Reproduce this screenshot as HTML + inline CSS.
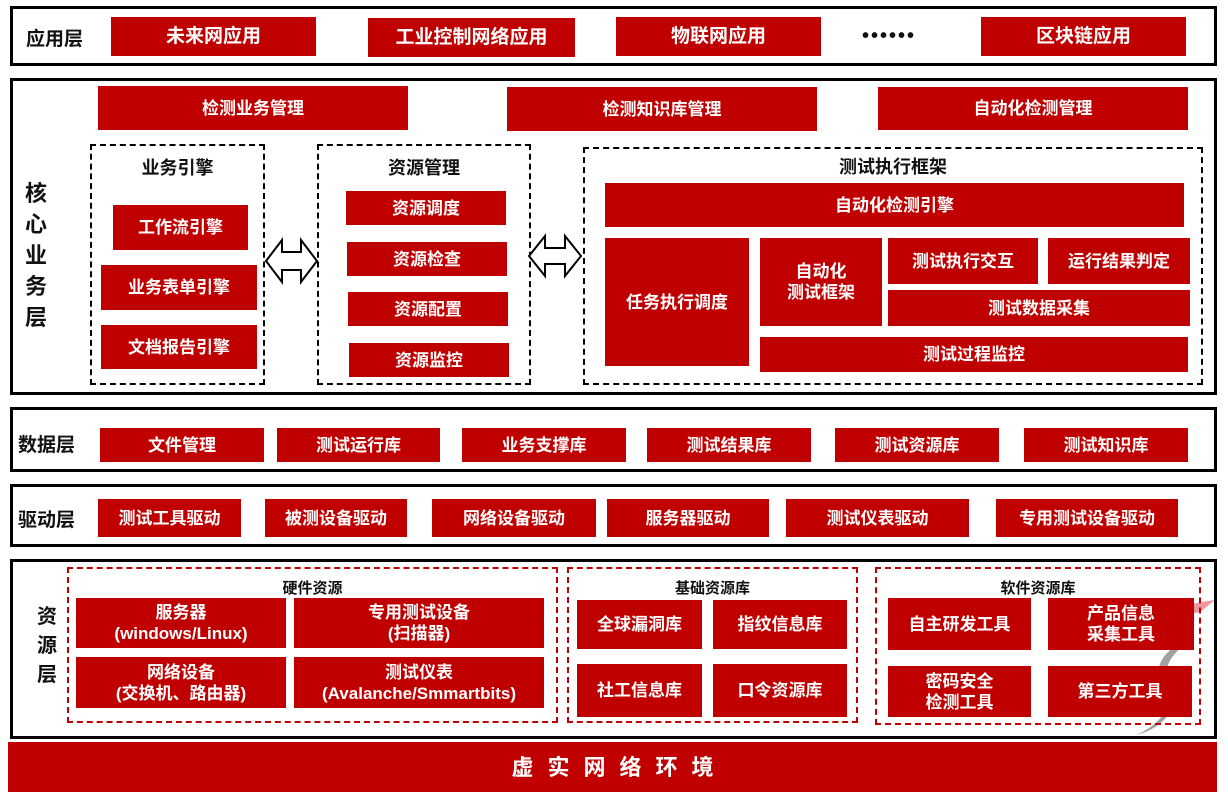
<!DOCTYPE html>
<html><head><meta charset="utf-8"><style>
body{margin:0;width:1228px;height:804px;background:#fff;position:relative;overflow:hidden;font-family:"Liberation Sans","Noto Sans CJK SC",sans-serif;font-weight:bold}
div{position:absolute;box-sizing:border-box}
.L{border:3px solid #000}
.r{background:#C00000;color:#fff;display:flex;align-items:center;justify-content:center;text-align:center;font-size:17px;line-height:21px}
.d{border:2px dashed #000}
.rd{border:2px dashed #C00000}
.t{font-size:18px;color:#111;text-align:center}
.s{font-size:15px;color:#111;text-align:center}
</style></head><body>
<div class="L" style="left:10px;top:6px;width:1207px;height:60px"></div>
<div class="t" style="left:26px;top:24px;font-size:19px">应用层</div>
<div class="r" style="left:111px;top:17px;width:205px;height:39px;font-size:19px">未来网应用</div>
<div class="r" style="left:368px;top:18px;width:207px;height:39px;font-size:19px">工业控制网络应用</div>
<div class="r" style="left:616px;top:17px;width:205px;height:39px;font-size:19px">物联网应用</div>
<div class="t" style="left:862px;top:25px;font-size:20px;letter-spacing:2px">••••••</div>
<div class="r" style="left:981px;top:17px;width:205px;height:39px;font-size:19px">区块链应用</div>

<div class="L" style="left:10px;top:78px;width:1207px;height:317px"></div>
<div class="t" style="left:22px;top:178px;width:28px;font-size:22px;line-height:31px">核<br>心<br>业<br>务<br>层</div>
<div class="r" style="left:98px;top:86px;width:310px;height:44px">检测业务管理</div>
<div class="r" style="left:507px;top:87px;width:310px;height:44px">检测知识库管理</div>
<div class="r" style="left:878px;top:87px;width:310px;height:43px">自动化检测管理</div>

<div class="d" style="left:90px;top:144px;width:175px;height:241px"></div>
<div class="t" style="left:90px;top:154px;width:175px">业务引擎</div>
<div class="r" style="left:113px;top:205px;width:135px;height:45px">工作流引擎</div>
<div class="r" style="left:101px;top:265px;width:156px;height:45px">业务表单引擎</div>
<div class="r" style="left:101px;top:325px;width:156px;height:44px">文档报告引擎</div>

<div class="d" style="left:317px;top:144px;width:214px;height:241px"></div>
<div class="t" style="left:317px;top:154px;width:214px">资源管理</div>
<div class="r" style="left:346px;top:191px;width:160px;height:34px">资源调度</div>
<div class="r" style="left:347px;top:242px;width:160px;height:34px">资源检查</div>
<div class="r" style="left:348px;top:292px;width:160px;height:34px">资源配置</div>
<div class="r" style="left:349px;top:343px;width:160px;height:34px">资源监控</div>

<svg style="position:absolute;left:0;top:0" width="1228" height="804">
<path d="M266 261 L282 240 L282 252 L301 252 L301 240 L317 261 L301 282 L301 270 L282 270 L282 282 Z" fill="#fff" stroke="#000" stroke-width="2"/>
<path d="M529 256 L545 236 L545 248 L565 248 L565 236 L581 256 L565 276 L565 264 L545 264 L545 276 Z" fill="#fff" stroke="#000" stroke-width="2"/>
<path d="M1215 600 C1180 605 1140 615 1100 640 C1130 630 1160 620 1200 612 Z" fill="#e05060" opacity=".6"/>
<path d="M1190 640 C1160 650 1150 670 1165 700 C1170 715 1150 730 1135 735 C1160 730 1180 710 1170 690 C1160 670 1170 655 1190 640 Z" fill="#555" opacity=".55"/>
</svg>

<div class="d" style="left:583px;top:147px;width:620px;height:238px"></div>
<div class="t" style="left:583px;top:153px;width:620px">测试执行框架</div>
<div class="r" style="left:605px;top:183px;width:579px;height:44px">自动化检测引擎</div>
<div class="r" style="left:605px;top:238px;width:144px;height:128px">任务执行调度</div>
<div class="r" style="left:760px;top:238px;width:122px;height:88px">自动化<br>测试框架</div>
<div class="r" style="left:888px;top:238px;width:150px;height:46px">测试执行交互</div>
<div class="r" style="left:1048px;top:238px;width:142px;height:46px">运行结果判定</div>
<div class="r" style="left:888px;top:290px;width:302px;height:36px">测试数据采集</div>
<div class="r" style="left:760px;top:337px;width:428px;height:35px">测试过程监控</div>

<div class="L" style="left:10px;top:407px;width:1207px;height:65px"></div>
<div class="t" style="left:18px;top:430px;font-size:19px">数据层</div>
<div class="r" style="left:100px;top:428px;width:164px;height:34px">文件管理</div>
<div class="r" style="left:277px;top:428px;width:163px;height:34px">测试运行库</div>
<div class="r" style="left:462px;top:428px;width:164px;height:34px">业务支撑库</div>
<div class="r" style="left:647px;top:428px;width:164px;height:34px">测试结果库</div>
<div class="r" style="left:835px;top:428px;width:164px;height:34px">测试资源库</div>
<div class="r" style="left:1024px;top:428px;width:164px;height:34px">测试知识库</div>

<div class="L" style="left:10px;top:484px;width:1207px;height:63px"></div>
<div class="t" style="left:18px;top:505px;font-size:19px">驱动层</div>
<div class="r" style="left:98px;top:499px;width:143px;height:38px">测试工具驱动</div>
<div class="r" style="left:265px;top:499px;width:142px;height:38px">被测设备驱动</div>
<div class="r" style="left:432px;top:499px;width:164px;height:38px">网络设备驱动</div>
<div class="r" style="left:607px;top:499px;width:162px;height:38px">服务器驱动</div>
<div class="r" style="left:786px;top:499px;width:183px;height:38px">测试仪表驱动</div>
<div class="r" style="left:996px;top:499px;width:182px;height:38px">专用测试设备驱动</div>

<div class="L" style="left:10px;top:559px;width:1207px;height:180px"></div>
<div class="t" style="left:33px;top:603px;width:28px;font-size:20px;line-height:29px">资<br>源<br>层</div>
<div class="rd" style="left:67px;top:567px;width:491px;height:156px"></div>
<div class="s" style="left:67px;top:577px;width:491px">硬件资源</div>
<div class="r" style="left:76px;top:598px;width:210px;height:50px">服务器<br>(windows/Linux)</div>
<div class="r" style="left:294px;top:598px;width:250px;height:50px">专用测试设备<br>(扫描器)</div>
<div class="r" style="left:76px;top:657px;width:210px;height:51px">网络设备<br>(交换机、路由器)</div>
<div class="r" style="left:294px;top:657px;width:250px;height:51px">测试仪表<br>(Avalanche/Smmartbits)</div>

<div class="rd" style="left:567px;top:567px;width:291px;height:156px"></div>
<div class="s" style="left:567px;top:577px;width:291px">基础资源库</div>
<div class="r" style="left:577px;top:600px;width:125px;height:49px">全球漏洞库</div>
<div class="r" style="left:713px;top:600px;width:134px;height:49px">指纹信息库</div>
<div class="r" style="left:577px;top:664px;width:125px;height:53px">社工信息库</div>
<div class="r" style="left:713px;top:664px;width:134px;height:53px">口令资源库</div>

<div class="rd" style="left:875px;top:567px;width:326px;height:158px"></div>
<div class="s" style="left:875px;top:577px;width:326px">软件资源库</div>
<div class="r" style="left:888px;top:598px;width:143px;height:52px">自主研发工具</div>
<div class="r" style="left:1048px;top:598px;width:146px;height:52px">产品信息<br>采集工具</div>
<div class="r" style="left:888px;top:666px;width:143px;height:51px">密码安全<br>检测工具</div>
<div class="r" style="left:1048px;top:666px;width:144px;height:51px">第三方工具</div>

<div class="r" style="left:8px;top:742px;width:1209px;height:50px;font-size:22px;letter-spacing:14px;padding-left:14px">虚实网络环境</div>
</body></html>
